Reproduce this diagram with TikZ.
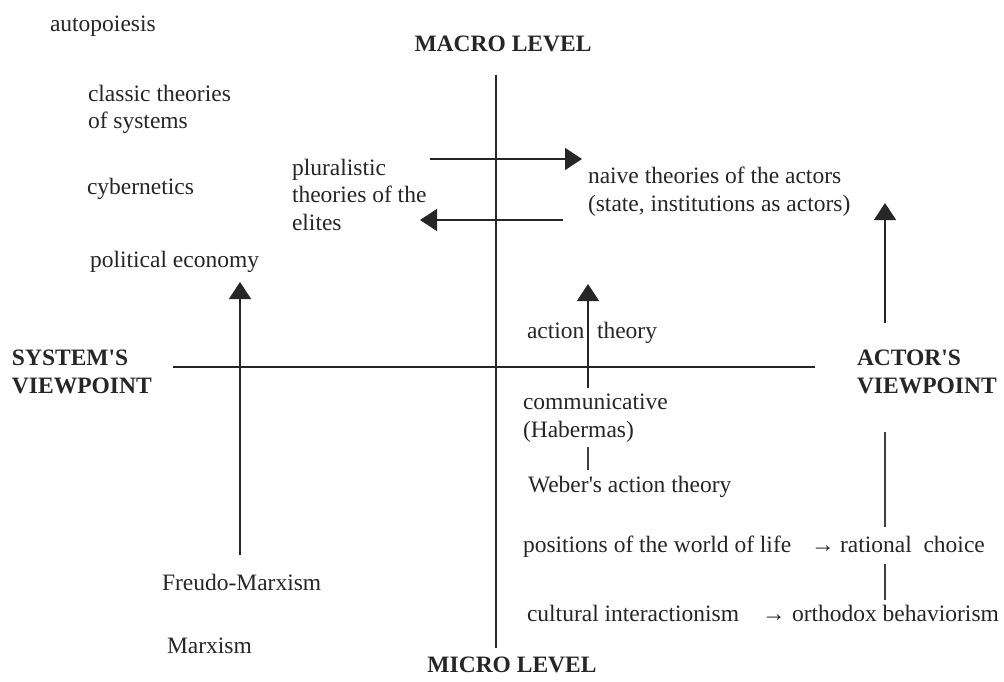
\documentclass[tikz,border=0pt]{standalone}
\usepackage{fontspec}
\setmainfont{Liberation Serif}
\usetikzlibrary{arrows.meta}
\tikzset{
  txt/.style={anchor=base west, inner sep=0pt, outer sep=0pt, align=left,
    font=\fontsize{23.5}{27.5}\selectfont, text=black!85},
  hdr/.style={txt, font=\fontsize{23.5}{28}\selectfont\bfseries},
  axis/.style={line width=1.8pt, draw=black!85},
  arr/.style={line width=1.3pt, draw=black!85, -{Triangle[length=17pt,width=22pt]}},
  seg/.style={line width=1.3pt, draw=black!75},
}
\begin{document}
\begin{tikzpicture}[x=1pt,y=-1pt]
\useasboundingbox[fill=white] (0,0) rectangle (1004,682);
% axes
\coordinate (vtop) at (496,75);
\coordinate (vbot) at (496,648);
\coordinate (hl) at (173,367);
\coordinate (hr) at (815,367);
\draw[axis] (vtop) -- (vbot);
\draw[axis] (hl) -- (hr);
% headers (multi-line nodes: base = last line)
\node[hdr, anchor=base] (macro) at (503,52) {MACRO LEVEL};
\node[hdr, anchor=base] (micro) at (512,672) {MICRO LEVEL};
\node[hdr] (sys) at (12,393) {SYSTEM\textquotesingle S\\VIEWPOINT};
\node[hdr] (act) at (857,393) {ACTOR\textquotesingle S\\VIEWPOINT};
% left column
\node[txt] (auto) at (50,32) {autopoiesis};
\node[txt] (classic) at (88,129) {classic theories\\of systems};
\node[txt] (cyber) at (87,194) {cybernetics};
\node[txt] (polec) at (90,267) {political economy};
\node[txt] (freudo) at (162,590) {Freudo-Marxism};
\node[txt] (marx) at (167,653) {Marxism};
% center
\node[txt] (plural) at (292,230) {pluralistic\\theories of the\\elites};
\node[txt] (naive) at (588,211) {naive theories of the actors\\(state, institutions as actors)};
\node[txt] (action) at (527,338) {action};
\node[txt] (theory) at (597,338) {theory};
\node[txt] (comm) at (523,437) {communicative\\(Habermas)};
\node[txt] (weber) at (528,492) {Weber\textquotesingle s action theory};
\node[txt] (pos) at (523,552) {positions of the world of life};
\node[txt] (posarr) at (811,552) {→};
\node[txt] (rat) at (840,552) {rational\ \ choice};
\node[txt] (cult) at (527,621) {cultural interactionism};
\node[txt] (cultarr) at (762,621) {→};
\node[txt] (orth) at (792,621) {orthodox behaviorism};
% arrows
\coordinate (a1s) at (430,159);
\coordinate (a1e) at (582,159);
\draw[arr] (a1s) -- (a1e);
\coordinate (a2s) at (563,220);
\coordinate (a2e) at (420,220);
\draw[arr] (a2s) -- (a2e);
\coordinate (l1s) at (240,555);
\coordinate (l1e) at (240,282);
\draw[arr] (l1s) -- (l1e);
\coordinate (m1s) at (588,388);
\coordinate (m1e) at (588,284);
\draw[arr] (m1s) -- (m1e);
\coordinate (m2s) at (588,470);
\coordinate (m2e) at (588,447);
\draw[seg] (m2s) -- (m2e);
\coordinate (r1s) at (885,323);
\coordinate (r1e) at (885,203);
\draw[arr] (r1s) -- (r1e);
\coordinate (r2s) at (885,432);
\coordinate (r2e) at (885,527);
\draw[seg] (r2s) -- (r2e);
\coordinate (r3s) at (885,564);
\coordinate (r3e) at (885,600);
\draw[seg] (r3s) -- (r3e);
\end{tikzpicture}
\end{document}
